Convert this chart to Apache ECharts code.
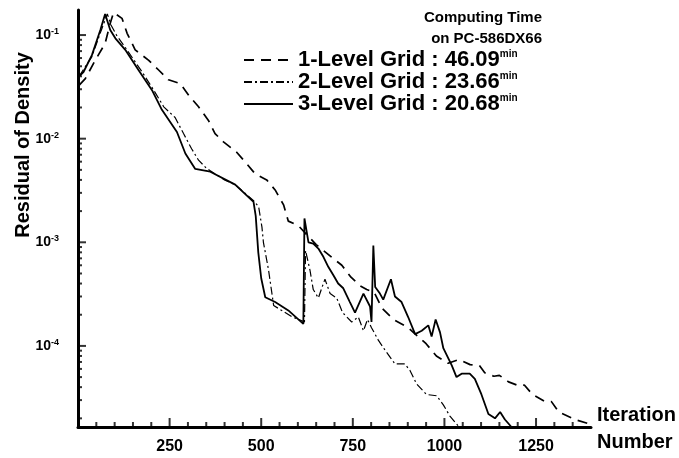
<!DOCTYPE html>
<html>
<head>
<meta charset="utf-8">
<script src="https://cdn.jsdelivr.net/npm/echarts@6/dist/echarts.min.js"></script>
<style>
  html, body { margin: 0; padding: 0; background: #fff; }
  #wrap { position: relative; width: 679px; height: 458px; }
  #chart, #ticks { position: absolute; left: 0; top: 0; width: 679px; height: 458px; }
  #ticks { pointer-events: none; }
</style>
</head>
<body>
<div id="wrap">
  <div id="chart"></div>
  <div id="ticks"></div>
</div>
<script>
// Convergence history: residual of density vs. iteration number
const seriesNames = ['1-Level Grid', '2-Level Grid', '3-Level Grid'];
const computeTimes = ['46.09', '23.66', '20.68'];

const oneLevel = [
  [4, 0.033], [20, 0.038], [47, 0.057], [74, 0.083], [88, 0.13], [97, 0.165],
  [120, 0.145], [134, 0.104], [156, 0.072], [193, 0.057], [220, 0.046], [247, 0.037],
  [279, 0.034], [302, 0.0263], [329, 0.0203], [356, 0.015], [374, 0.0112], [397, 0.0093],
  [433, 0.0074], [461, 0.0057], [483, 0.0046], [515, 0.0040], [538, 0.0032], [561, 0.0023],
  [574, 0.0016], [601, 0.00145], [625, 0.00118], [650, 0.00095], [692, 0.00072], [720, 0.00060],
  [745, 0.00046], [770, 0.00038], [788, 0.00035], [808, 0.00033], [830, 0.00023], [861, 0.00018],
  [901, 0.00015], [950, 0.000105], [978, 0.00008], [1010, 0.000068], [1040, 0.000074],
  [1070, 0.000066], [1095, 0.000065], [1110, 0.000055], [1135, 0.000051], [1150, 0.000052],
  [1175, 0.000045], [1205, 0.000041], [1218, 0.000042], [1240, 0.000034], [1275, 0.000029],
  [1292, 0.000029], [1312, 0.000023], [1356, 0.0000195], [1400, 0.0000175]
];

const twoLevel = [
  [3, 0.040], [38, 0.062], [61, 0.105], [80, 0.16], [90, 0.125], [105, 0.10], [130, 0.075],
  [175, 0.044], [205, 0.030], [234, 0.0203], [265, 0.016], [288, 0.0112], [310, 0.0080],
  [329, 0.0062], [350, 0.0052], [361, 0.0049], [400, 0.0040], [429, 0.0036], [480, 0.0025],
  [493, 0.0022], [502, 0.0014], [506, 0.0010], [520, 0.00054], [534, 0.000245], [556, 0.00022],
  [585, 0.00019], [611, 0.000175], [618, 0.00017], [621, 0.00083], [633, 0.00054], [642, 0.00035],
  [656, 0.00029], [665, 0.00036], [674, 0.00044], [688, 0.00032], [706, 0.00029], [722, 0.00021],
  [747, 0.00017], [765, 0.00019], [779, 0.00014], [790, 0.00018], [801, 0.00015], [820, 0.000113],
  [838, 0.000091], [865, 0.000067], [892, 0.000067], [906, 0.000058], [924, 0.000043],
  [951, 0.000034], [979, 0.000033], [997, 0.000027], [1015, 0.000021], [1040, 0.0000165]
];

const threeLevel = [
  [3, 0.040], [15, 0.044], [38, 0.064], [61, 0.112], [74, 0.16], [88, 0.112], [102, 0.093],
  [129, 0.072], [165, 0.046], [202, 0.0294], [229, 0.019], [270, 0.0116], [293, 0.0072],
  [320, 0.0051], [361, 0.0048], [429, 0.0036], [479, 0.00245], [485, 0.0018], [492, 0.0008],
  [500, 0.00045], [511, 0.000295], [538, 0.000265], [574, 0.00022], [615, 0.000163],
  [618, 0.0017], [629, 0.0010], [642, 0.00097], [656, 0.00087], [670, 0.00072], [683, 0.00058],
  [697, 0.00048], [710, 0.00040], [724, 0.00036], [742, 0.000265], [756, 0.00021], [779, 0.00032],
  [797, 0.00024], [801, 0.00017], [806, 0.00093], [811, 0.00037], [824, 0.00032], [833, 0.00028],
  [854, 0.00044], [865, 0.00030], [883, 0.000265], [901, 0.00019], [920, 0.00013], [938, 0.00014],
  [956, 0.000158], [965, 0.000123], [976, 0.00018], [988, 0.000135], [997, 0.000095],
  [1020, 0.000065], [1033, 0.00005], [1047, 0.000054], [1069, 0.000054], [1083, 0.000048],
  [1101, 0.000034], [1120, 0.000022], [1138, 0.00002], [1152, 0.000023], [1165, 0.0000195],
  [1183, 0.0000165]
];

// Axis ranges and tick positions
const X_MIN = 0, X_MAX = 1400;
const Y_MIN = 1.65e-5, Y_MAX = 0.1745;
const xLabelTicks = [250, 500, 750, 1000, 1250];
const yDecadeTicks = [1e-4, 1e-3, 1e-2, 1e-1];

const xMinorTicks = [];
for (let x = 50; x < X_MAX; x += 50) {
  if (!xLabelTicks.includes(x)) xMinorTicks.push(x);
}
const yMinorTicks = [];
[1e-5, 1e-4, 1e-3, 1e-2].forEach(d => {
  for (let k = 2; k <= 9; k++) {
    const v = k * d;
    if (v >= Y_MIN && v <= Y_MAX) yMinorTicks.push(v);
  }
});

const FONT = '"Liberation Sans", Arial, Helvetica, sans-serif';
const GRID = { left: 78, right: 88, top: 10, bottom: 31, containLabel: false };
const lineStyles = [
  { type: [10, 7], width: 1.7 },
  { type: [8, 3, 2, 3], width: 1.2 },
  { type: 'solid', width: 1.8 }
];
const seriesData = [oneLevel, twoLevel, threeLevel];

// Main chart: axes, labels, legend and the three convergence curves
const chart = echarts.init(document.getElementById('chart'), null, { renderer: 'canvas' });
chart.setOption({
  backgroundColor: '#fff',
  animation: false,
  grid: GRID,
  xAxis: {
    type: 'value', min: X_MIN, max: X_MAX, interval: 250,
    axisLine: { lineStyle: { color: '#000', width: 3 } },
    axisTick: { show: false },
    splitLine: { show: false },
    axisLabel: {
      margin: 12, color: '#000', fontFamily: FONT, fontWeight: 'bold', fontSize: 16,
      showMinLabel: false, showMaxLabel: false,
      formatter: v => xLabelTicks.includes(v) ? String(v) : ''
    }
  },
  yAxis: {
    type: 'log', logBase: 10, min: Y_MIN, max: Y_MAX,
    axisLine: { lineStyle: { color: '#000', width: 3 } },
    axisTick: { show: false },
    splitLine: { show: false },
    axisLabel: {
      margin: 19, color: '#000', showMinLabel: false, showMaxLabel: false,
      formatter: v => {
        const e = Math.round(Math.log10(v));
        if (Math.abs(Math.log10(v) - e) > 1e-6) return '';
        return '{b|10}{s|' + e + '}';
      },
      rich: {
        b: { fontFamily: FONT, fontWeight: 'bold', fontSize: 14, lineHeight: 16, color: '#000' },
        s: { fontFamily: FONT, fontWeight: 'bold', fontSize: 9, lineHeight: 16, verticalAlign: 'top', color: '#000' }
      }
    }
  },
  legend: {
    orient: 'vertical', left: 238, top: 44, itemWidth: 49, itemHeight: 12, itemGap: 0,
    data: seriesNames,
    itemStyle: { opacity: 0 },
    formatter: name => '{t|' + name + ' : ' + computeTimes[seriesNames.indexOf(name)] + '}{s|min}',
    textStyle: {
      rich: {
        t: { fontFamily: FONT, fontWeight: 'bold', fontSize: 22, lineHeight: 22, color: '#000' },
        s: { fontFamily: FONT, fontWeight: 'bold', fontSize: 10, lineHeight: 22, verticalAlign: 'top', color: '#000' }
      }
    }
  },
  graphic: [
    { type: 'text', x: 542, y: 18,
      style: { text: 'Computing Time', font: 'bold 15px ' + FONT, fill: '#000', align: 'right', verticalAlign: 'middle' } },
    { type: 'text', x: 542, y: 39,
      style: { text: 'on PC-586DX66', font: 'bold 15px ' + FONT, fill: '#000', align: 'right', verticalAlign: 'middle' } },
    { type: 'text', x: 23, y: 145, rotation: Math.PI / 2,
      style: { text: 'Residual of Density', font: 'bold 20px ' + FONT, fill: '#000', align: 'center', verticalAlign: 'middle' } },
    { type: 'text', x: 597, y: 415,
      style: { text: 'Iteration', font: 'bold 20px ' + FONT, fill: '#000', align: 'left', verticalAlign: 'middle' } },
    { type: 'text', x: 597, y: 442,
      style: { text: 'Number', font: 'bold 20px ' + FONT, fill: '#000', align: 'left', verticalAlign: 'middle' } }
  ],
  series: seriesNames.map((name, i) => ({
    name: name,
    type: 'line',
    data: seriesData[i],
    symbol: 'none',
    showSymbol: false,
    clip: true,
    color: '#000',
    itemStyle: { color: '#000' },
    lineStyle: Object.assign({ color: '#000' }, lineStyles[i])
  }))
});

// Overlay chart on the same grid and axis ranges: inward major and minor tick marks
const xMajorMarks = xLabelTicks.map(x => [x, Y_MIN]);
const xMinorMarks = xMinorTicks.map(x => [x, Y_MIN]);
const yMajorMarks = yDecadeTicks.map(v => [X_MIN, v]);
const yMinorMarks = yMinorTicks.map(v => [X_MIN, v]);

function tickSeries(name, data, size, offset) {
  return {
    name: name, type: 'scatter', data: data,
    symbol: 'rect', symbolSize: size, symbolOffset: offset,
    itemStyle: { color: '#000' }, clip: false
  };
}

const tickChart = echarts.init(document.getElementById('ticks'), null, { renderer: 'canvas' });
tickChart.setOption({
  backgroundColor: 'transparent',
  animation: false,
  grid: GRID,
  xAxis: {
    type: 'value', min: X_MIN, max: X_MAX,
    axisLine: { show: false }, axisTick: { show: false }, axisLabel: { show: false }, splitLine: { show: false }
  },
  yAxis: {
    type: 'log', logBase: 10, min: Y_MIN, max: Y_MAX,
    axisLine: { show: false }, axisTick: { show: false }, axisLabel: { show: false }, splitLine: { show: false }
  },
  series: [
    tickSeries('x major', xMajorMarks, [2, 9], [0, -4.5]),
    tickSeries('x minor', xMinorMarks, [2, 5], [0, -2.5]),
    tickSeries('y major', yMajorMarks, [8, 2], [4, 0]),
    tickSeries('y minor', yMinorMarks, [4, 2], [2, 0])
  ]
});
</script>
</body>
</html>
